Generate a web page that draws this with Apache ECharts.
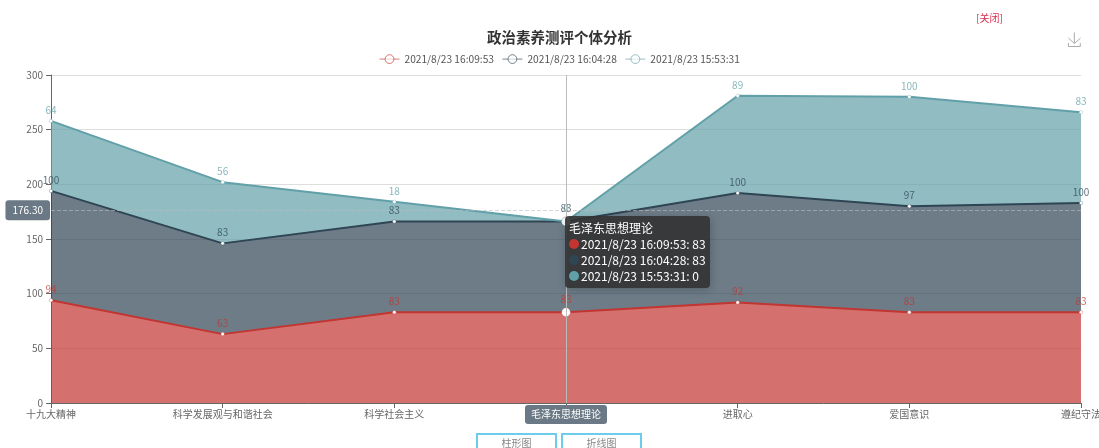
<!DOCTYPE html>
<html>
<head>
<meta charset="utf-8">
<title>政治素养测评个体分析</title>
<style>
    html, body { margin: 0; padding: 0; background: #fff; overflow: hidden; }
    #main { position: absolute; left: 0; top: 0; width: 1099px; height: 448px; }
    .close { position: absolute; left: 976px; top: 10px; color: #d9304f; font: 10px "Noto Sans CJK SC", sans-serif; }
    .btn {
        position: absolute; top: 433px; width: 81px; height: 20px; box-sizing: border-box;
        border: 2px solid #6ccdea; color: #888; text-align: center;
        font: 10px/16px "Noto Sans CJK SC", sans-serif;
    }
</style>
</head>
<body>
<div id="main"></div>
<div class="close">[关闭]</div>
<div class="btn" style="left:476px">柱形图</div>
<div class="btn" style="left:561px">折线图</div>
<script src="https://cdn.jsdelivr.net/npm/echarts@6/dist/echarts.min.js"></script>
<script>
var categories = ['十九大精神', '科学发展观与和谐社会', '科学社会主义', '毛泽东思想理论', '进取心', '爱国意识', '遵纪守法'];
var seriesNames = ['2021/8/23 16:09:53', '2021/8/23 16:04:28', '2021/8/23 15:53:31'];
var values1 = [94, 63, 83, 83, 92, 83, 83];
var values2 = [100, 83, 83, 83, 100, 97, 100];
var values3 = [64, 56, 18, 0, 89, 100, 83];
var colors = ['#c23531', '#2f4554', '#61a0a8'];
var hoverIndex = 3;
var fontFamily = '"Noto Sans CJK SC", "Noto Sans", sans-serif';

function makeSeries(name, data, color) {
    return {
        name: name,
        type: 'line',
        stack: 'total',
        data: data,
        symbol: 'circle',
        symbolSize: function (value, params) {
            return params.dataIndex === hoverIndex ? 8 : 3.5;
        },
        showSymbol: true,
        lineStyle: { width: 2, color: color },
        itemStyle: { color: '#fff', borderColor: color, borderWidth: 0.3 },
        areaStyle: { color: color, opacity: 0.7 },
        label: { show: true, position: 'top', distance: 4, color: color, fontSize: 10, fontFamily: fontFamily, opacity: 0.75 },
        emphasis: { disabled: true },
        animation: false
    };
}

function legendItem(name, color) {
    return {
        name: name,
        itemStyle: { color: '#fff', borderColor: color, borderWidth: 1, opacity: 0.65 },
        lineStyle: { color: color, width: 1, opacity: 0.65 }
    };
}

var chart = echarts.init(document.getElementById('main'));
chart.setOption({
    animation: false,
    color: colors,
    title: {
        text: '政治素养测评个体分析',
        left: 482,
        top: 25,
        padding: 5,
        textStyle: { fontSize: 14.5, fontWeight: 'bold', color: '#333', fontFamily: fontFamily }
    },
    legend: {
        data: seriesNames.map(function (n, i) { return legendItem(n, colors[i]); }),
        top: 49,
        left: 374,
        itemWidth: 20,
        itemHeight: 11,
        itemGap: 8,
        textStyle: { fontSize: 10.2, color: '#555', fontFamily: fontFamily }
    },
    toolbox: {
        right: 1,
        top: 15,
        itemSize: 14,
        feature: { saveAsImage: { title: '' } },
        iconStyle: { borderColor: '#aaa' }
    },
    tooltip: {
        trigger: 'axis',
        alwaysShowContent: true,
        transitionDuration: 0,
        axisPointer: {
            type: 'cross',
            label: { backgroundColor: '#6a7985', fontSize: 10, fontFamily: fontFamily }
        },
        backgroundColor: 'rgba(50,50,50,0.9)',
        borderWidth: 0,
        padding: [4, 4],
        textStyle: { color: '#fff', fontSize: 12, fontFamily: fontFamily },
        formatter: function (params) {
            var rows = ['<div style="line-height:16px">' + params[0].name + '</div>'];
            params.forEach(function (p) {
                var dot = '<span style="display:inline-block;width:10px;height:10px;border-radius:5px;margin-right:2px;background:' + colors[p.seriesIndex] + '"></span>';
                rows.push('<div style="line-height:16px">' + dot + p.seriesName + ': ' + p.value + '</div>');
            });
            return rows.join('');
        },
        position: function (point) {
            return [point[0], point[1] + 6];
        }
    },
    grid: { left: 51, right: 18, top: 75, bottom: 45, outerBoundsMode: 'none' },
    xAxis: {
        type: 'category',
        boundaryGap: false,
        data: categories,
        axisLine: { lineStyle: { color: '#666' } },
        axisTick: { show: true, alignWithLabel: true },
        axisLabel: { interval: 0, fontSize: 10, margin: 6, color: '#666', fontFamily: fontFamily },
        axisPointer: {
            lineStyle: { type: 'solid', color: '#bbb', width: 1 },
            label: { margin: 2, padding: [4, 6, 5, 6] }
        }
    },
    yAxis: {
        type: 'value',
        min: 0,
        max: 300,
        interval: 50,
        axisLine: { show: true, lineStyle: { color: '#666' } },
        axisTick: { show: true },
        axisLabel: { fontSize: 10, color: '#666', fontFamily: fontFamily },
        splitLine: { lineStyle: { color: '#ddd' } },
        axisPointer: {
            lineStyle: { type: 'dashed', color: 'rgba(190,190,190,0.6)', width: 1 },
            label: { margin: 1 }
        }
    },
    series: [
        makeSeries(seriesNames[0], values1, colors[0]),
        makeSeries(seriesNames[1], values2, colors[1]),
        makeSeries(seriesNames[2], values3, colors[2])
    ]
});

chart.dispatchAction({ type: 'showTip', x: 565, y: 210.25 });
</script>
</body>
</html>
